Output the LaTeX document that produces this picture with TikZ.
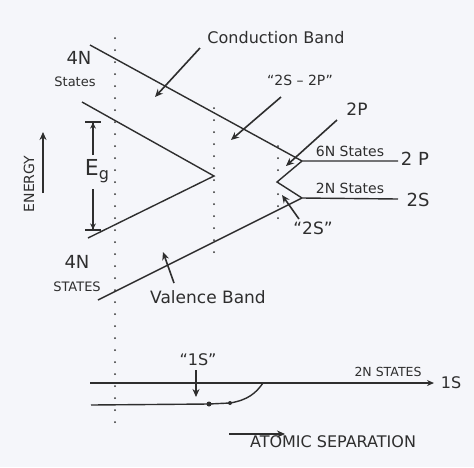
\documentclass[tikz,border=0pt]{standalone}
\usepackage{fontspec}
\setmainfont{DejaVu Sans}
\usetikzlibrary{arrows.meta}
\definecolor{ink}{HTML}{2E2E2E}
\definecolor{paper}{HTML}{F5F6FA}
\newcommand{\fs}[1]{\fontsize{#1}{#1}\selectfont}
\begin{document}
\begin{tikzpicture}[x=1pt,y=-1pt,
  band/.style={draw=ink,line width=1.4pt},
  dotline/.style={draw=ink,line width=2pt,line cap=round,dash pattern=on 0pt off 12pt},
  pointer/.style={draw=ink,line width=1.6pt,-{Stealth[length=8pt,width=7pt]}},
  lbl/.style={text=ink,inner sep=0pt}]
\fill[paper] (0,0) rectangle (474,467);
\useasboundingbox (0,0) rectangle (474,467);
% dotted verticals
\coordinate (d1a) at (115,38); \coordinate (d1b) at (115,422);
\coordinate (d2a) at (214,108); \coordinate (d2b) at (214,254);
\coordinate (d3a) at (278,146); \coordinate (d3b) at (278,218);
\draw[dotline] (d1a) -- (d1b);
\draw[dotline] (d2a) -- (d2b);
\draw[dotline] (d3a) -- (d3b);
% band lines
\coordinate (cb0) at (90,45);
\coordinate (p2) at (302,161);
\coordinate (p2e) at (398,161);
\coordinate (mid) at (277,182);
\coordinate (s2) at (302,198);
\coordinate (s2e) at (398,199);
\coordinate (vb0) at (98,300);
\coordinate (ci0) at (82,102);
\coordinate (apex) at (214,176);
\coordinate (vi0) at (88,238);
\draw[band] (cb0) -- (p2) -- (p2e);
\draw[band] (p2) -- (mid) -- (s2) -- (s2e);
\draw[band] (vb0) -- (s2);
\draw[band] (ci0) -- (apex) -- (vi0);
% 1S lines
\coordinate (u0) at (90,383); \coordinate (u1) at (434,383);
\coordinate (l0) at (91,405); \coordinate (ld1) at (209,404); \coordinate (ld2) at (230,403); \coordinate (lj) at (263,383);
\draw[band,-{Stealth[length=7pt,width=6pt]}] (u0) -- (u1);
\draw[band] (l0) -- (ld1) -- (ld2) .. controls (248,400) and (256,393) .. (lj);
\fill[ink] (ld1) circle (2.5pt) (ld2) circle (2pt);
% Eg
\node[lbl,inner sep=1pt,font=\fs{22}] (eg) at (97,171) {E\raisebox{-0.35ex}{\fs{16}g}};
\coordinate (egt) at (93,121); \coordinate (egb) at (93,231);
\draw[draw=ink,line width=1.6pt,-{Stealth[length=6pt,width=6pt]Bar[width=16pt]}] (93,155) -- (egt);
\draw[draw=ink,line width=1.6pt,-{Stealth[length=6pt,width=6pt]Bar[width=16pt]}] (93,189) -- (egb);
% energy
\node[lbl,rotate=90,font=\fs{14}] (energy) at (29,184) {ENERGY};
\coordinate (ea0) at (43,193); \coordinate (ea1) at (43,132);
\draw[pointer] (ea0) -- (ea1);
% labels
\node[lbl,font=\fs{18}] (n4a) at (79,58) {4N};
\node[lbl,font=\fs{13}] (sta) at (75,82) {States};
\node[lbl,font=\fs{18}] (n4b) at (77,262) {4N};
\node[lbl,font=\fs{13}] (stb) at (77,287) {STATES};
\node[lbl,font=\fs{16}] (cond) at (276,38) {Conduction Band};
\coordinate (c0) at (200,48); \coordinate (ca) at (155,97);
\draw[pointer] (c0) -- (ca);
\node[lbl,font=\fs{14}] (s2p) at (300,80) {“2S – 2P”};
\coordinate (sa) at (231,140);
\draw[pointer] (281,97) -- (sa);
\node[lbl,font=\fs{17}] (l2p) at (357,109) {2P};
\coordinate (pa) at (286,166);
\draw[pointer] (337,120) -- (pa);
\node[lbl,font=\fs{14}] (n6) at (350,151) {6N States};
\node[lbl,font=\fs{18}] (r2p) at (415,159) {2 P};
\node[lbl,font=\fs{14}] (n2) at (350,188) {2N States};
\node[lbl,font=\fs{18}] (r2s) at (418,200) {2S};
\node[lbl,font=\fs{17}] (q2s) at (313,228) {“2S”};
\coordinate (qa) at (282,195);
\draw[pointer] (299,219) -- (qa);
\node[lbl,font=\fs{17}] (vb) at (208,297) {Valence Band};
\coordinate (va) at (163,252);
\draw[pointer] (174,283) -- (va);
\node[lbl,font=\fs{16}] (q1s) at (198,360) {“1S”};
\coordinate (oa) at (196,397);
\draw[pointer] (196,370) -- (oa);
\node[lbl,font=\fs{12.5}] (n2s) at (388,372) {2N STATES};
\node[lbl,font=\fs{16}] (r1s) at (451,383) {1S};
\coordinate (as0) at (229,434); \coordinate (as1) at (285,434);
\draw[pointer] (as0) -- (as1);
\node[lbl,font=\fs{16}] (asep) at (333,442) {ATOMIC SEPARATION};
\end{tikzpicture}
\end{document}
